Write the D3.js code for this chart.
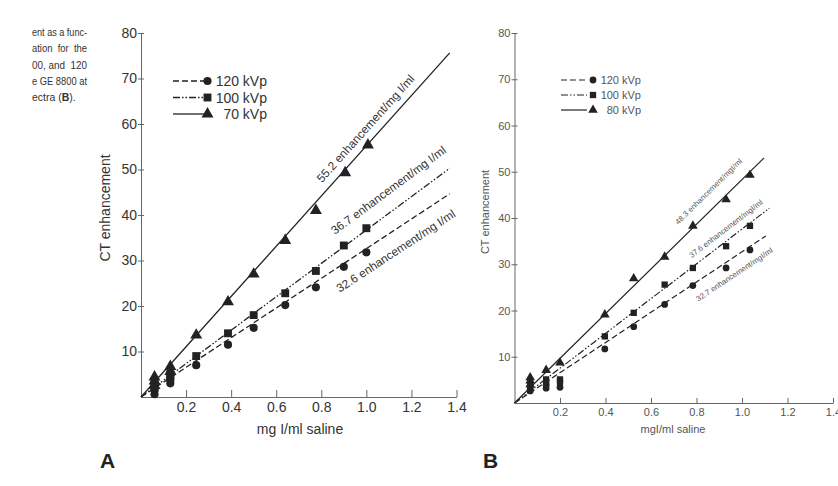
<!DOCTYPE html>
<html>
<head>
<meta charset="utf-8">
<script src="https://cdn.jsdelivr.net/npm/d3@7"></script>
<style>
  body { margin: 0; background: #fff; }
  svg { display: block; }
</style>
</head>
<body>
<svg id="chart" width="838" height="486"></svg>
<script>
// tick labels shared by both panels
var xTicks = [0.2, 0.4, 0.6, 0.8, 1.0, 1.2, 1.4];
var yTicks = [10, 20, 30, 40, 50, 60, 70, 80];

// panel A - [mg I/ml, CT enhancement]
var a120 = [[0.06, 0.6], [0.06, 1.6], [0.13, 3.0], [0.13, 4.0], [0.245, 7.0], [0.386, 11.5], [0.5, 15.2],
            [0.64, 20.2], [0.776, 24.1], [0.9, 28.6], [1.0, 31.8]];
var a100 = [[0.06, 2.0], [0.06, 3.0], [0.13, 4.2], [0.13, 5.0], [0.245, 9.0], [0.386, 14.0], [0.5, 18.0],
            [0.64, 22.8], [0.776, 27.7], [0.9, 33.3], [1.0, 37.1]];
var a70 = [[0.06, 2.5], [0.06, 3.5], [0.06, 4.4], [0.13, 5.6], [0.13, 6.7], [0.245, 13.6], [0.386, 20.9],
           [0.5, 27.0], [0.64, 34.4], [0.776, 41.0], [0.906, 49.3], [1.007, 55.4]];
var aSlopes = [32.6, 36.7, 55.2];
var aFitEnd = [1.37, 1.37, 1.37];
var aLegend = ["120 kVp", "100 kVp", "70 kVp"];
var aLabels = ["32.6 enhancement/mg I/ml", "36.7 enhancement/mg I/ml", "55.2 enhancement/mg I/ml"];
var aLabelAt = [[0.882, 22.9], [0.86, 35.6], [0.803, 47.0]];

// panel B
var b120 = [[0.069, 2.6], [0.069, 3.1], [0.139, 3.2], [0.139, 3.9], [0.2, 3.4], [0.397, 11.7], [0.524, 16.5],
            [0.66, 21.3], [0.784, 25.4], [0.93, 29.2], [1.035, 33.1]];
var b100 = [[0.069, 3.4], [0.069, 4.1], [0.139, 4.4], [0.139, 5.1], [0.2, 4.5], [0.2, 5.1], [0.397, 14.4],
            [0.524, 19.5], [0.66, 25.6], [0.784, 29.2], [0.93, 33.9], [1.035, 38.3]];
var b80 = [[0.069, 4.0], [0.069, 4.8], [0.069, 5.5], [0.139, 7.1], [0.2, 8.7], [0.397, 19.1], [0.524, 26.9],
           [0.66, 31.6], [0.784, 38.3], [0.93, 44.0], [1.035, 49.3]];
var bSlopes = [32.7, 37.6, 48.3];
var bFitEnd = [1.105, 1.12, 1.097];
var bLegend = ["120 kVp", "100 kVp", "80 kVp"];
var bLabels = ["32.7 enhancement/mgI/ml", "37.6 enhancement/mgI/ml", "48.3 enhancement/mgI/ml"];
var bLabelAt = [[0.808, 21.9], [0.779, 31.3], [0.72, 38.5]];

// caption fragment cut off at the left edge
var captionLines = ["ent as a func-", "ation  for  the", "00, and  120", "e GE 8800 at"];

var svg = d3.select("#chart");
var FONT = "'Liberation Sans', Arial, Helvetica, sans-serif";
var symbols = [d3.symbolCircle, d3.symbolSquare, d3.symbolTriangle];
var dashes = ["6,3", "7,2,1.5,2,1.5,2", null];

// caption
var cap = svg.append("g").attr("font-family", FONT).attr("font-size", 11.5).attr("fill", "#333");
captionLines.forEach(function(t, i) {
  cap.append("text").attr("x", 32).attr("y", 36 + i * 16.3)
    .attr("textLength", 55).attr("lengthAdjust", "spacingAndGlyphs")
    .style("white-space", "pre").text(t);
});
var last = cap.append("text").attr("x", 32).attr("y", 101).attr("font-size", 10.5);
last.append("tspan").text("ectra (");
last.append("tspan").attr("font-weight", "bold").text("B");
last.append("tspan").text(").");

function drawPanel(p) {
  var x = d3.scaleLinear().domain([0, 1.4]).range(p.xRange);
  var y = d3.scaleLinear().domain([0, 80]).range(p.yRange);
  var g = svg.append("g").attr("font-family", FONT);

  // axes
  var xAxis = g.append("g")
      .attr("transform", "translate(0," + y(0) + ")")
      .call(d3.axisBottom(x).tickValues(xTicks).tickFormat(d3.format(".1f"))
        .tickSize(-p.xTickLen).tickSizeOuter(0).tickPadding(p.xPad));
  var yAxis = g.append("g")
      .attr("transform", "translate(" + x(0) + ",0)")
      .call(d3.axisLeft(y).tickValues(yTicks).tickSize(3).tickSizeOuter(0).tickPadding(p.yPad));
  yAxis.selectAll(".tick line").attr("x1", 3).attr("x2", -3);
  [xAxis, yAxis].forEach(function(a) {
    a.select(".domain").attr("stroke", "#666");
    a.selectAll(".tick line").attr("stroke", "#666");
    a.selectAll("text").attr("font-size", p.tickFont).attr("fill", p.textColor);
  });

  // axis titles
  g.append("text")
    .attr("x", p.xTitle[0]).attr("y", p.xTitle[1])
    .attr("text-anchor", "middle").attr("font-size", p.titleFont).attr("fill", p.textColor)
    .style("white-space", "pre").text(p.xLabel);
  g.append("text")
    .attr("transform", "translate(" + p.yTitle[0] + "," + p.yTitle[1] + ") rotate(-90)")
    .attr("text-anchor", "middle").attr("font-size", p.titleFont).attr("fill", p.textColor)
    .text("CT enhancement");

  // regression lines
  var line = d3.line().x(function(d) { return x(d[0]); }).y(function(d) { return y(d[1]); });
  p.slopes.forEach(function(s, i) {
    g.append("path")
      .datum([[0, 0], [p.fitEnd[i], s * p.fitEnd[i]]])
      .attr("d", line)
      .attr("fill", "none")
      .attr("stroke", "#222")
      .attr("stroke-width", p.lineWidth)
      .attr("stroke-dasharray", dashes[i]);
  });

  // measured points
  p.series.forEach(function(data, i) {
    g.selectAll(null)
      .data(data)
      .enter().append("path")
      .attr("transform", function(d) { return "translate(" + x(d[0]) + "," + y(d[1]) + ")"; })
      .attr("d", d3.symbol().type(symbols[i]).size(p.symbolSize[i]))
      .attr("fill", "#222");
  });

  // slope labels along each line
  p.slopes.forEach(function(s, i) {
    var angle = Math.atan2(y(s) - y(0), x(1) - x(0)) * 180 / Math.PI;
    g.append("text")
      .attr("transform", "translate(" + x(p.labelAt[i][0]) + "," + y(p.labelAt[i][1]) + ") rotate(" + angle + ")")
      .attr("font-size", p.labelFont)
      .attr("fill", p.textColor)
      .text(p.labels[i]);
  });

  // legend
  var lg = g.append("g").attr("transform", "translate(" + p.legendAt[0] + "," + p.legendAt[1] + ")");
  p.legend.forEach(function(t, i) {
    var row = lg.append("g").attr("transform", "translate(0," + i * p.legendStep + ")");
    row.append("line")
      .attr("x1", 0).attr("x2", p.legendLine).attr("y1", 0).attr("y2", 0)
      .attr("stroke", "#222").attr("stroke-width", p.lineWidth)
      .attr("stroke-dasharray", dashes[i]);
    row.append("path")
      .attr("transform", "translate(" + (p.legendLine + p.legendMark) + ",0)")
      .attr("d", d3.symbol().type(symbols[i]).size(p.symbolSize[i]))
      .attr("fill", "#222");
    row.append("text")
      .attr("x", p.legendTextEnd).attr("y", 0).attr("dy", "0.36em")
      .attr("text-anchor", "end")
      .attr("font-size", p.legendFont).attr("fill", p.textColor)
      .text(t);
  });

  // panel letter
  svg.append("text")
    .attr("x", p.letterAt[0]).attr("y", p.letterAt[1])
    .attr("font-family", FONT).attr("font-weight", "bold").attr("font-size", 21)
    .attr("fill", "#222")
    .text(p.letter);
}

drawPanel({
  xRange: [141, 456.5], yRange: [397, 33],
  series: [a120, a100, a70], slopes: aSlopes, fitEnd: aFitEnd,
  labels: aLabels, labelAt: aLabelAt, legend: aLegend,
  xLabel: "mg I/ml saline", xTitle: [300, 434], yTitle: [110, 208],
  tickFont: 14, titleFont: 14, labelFont: 11.8, legendFont: 14,
  xTickLen: 7, xPad: 5, yPad: 1, lineWidth: 1.3,
  symbolSize: [52, 62, 62], textColor: "#333",
  legendAt: [173, 81], legendStep: 16.5, legendLine: 31, legendMark: 3.5, legendTextEnd: 94,
  letter: "A", letterAt: [100, 468]
});

drawPanel({
  xRange: [514.5, 833], yRange: [403, 33],
  series: [b120, b100, b80], slopes: bSlopes, fitEnd: bFitEnd,
  labels: bLabels, labelAt: bLabelAt, legend: bLegend,
  xLabel: "mgI/ml saline", xTitle: [673, 433], yTitle: [489, 212],
  tickFont: 11, titleFont: 11, labelFont: 7.8, legendFont: 11,
  xTickLen: 5, xPad: 5, yPad: 1, lineWidth: 1.2,
  symbolSize: [36, 40, 40], textColor: "#555",
  legendAt: [561, 80], legendStep: 15, legendLine: 26, legendMark: 6, legendTextEnd: 80,
  letter: "B", letterAt: [483, 468]
});
</script>
</body>
</html>
